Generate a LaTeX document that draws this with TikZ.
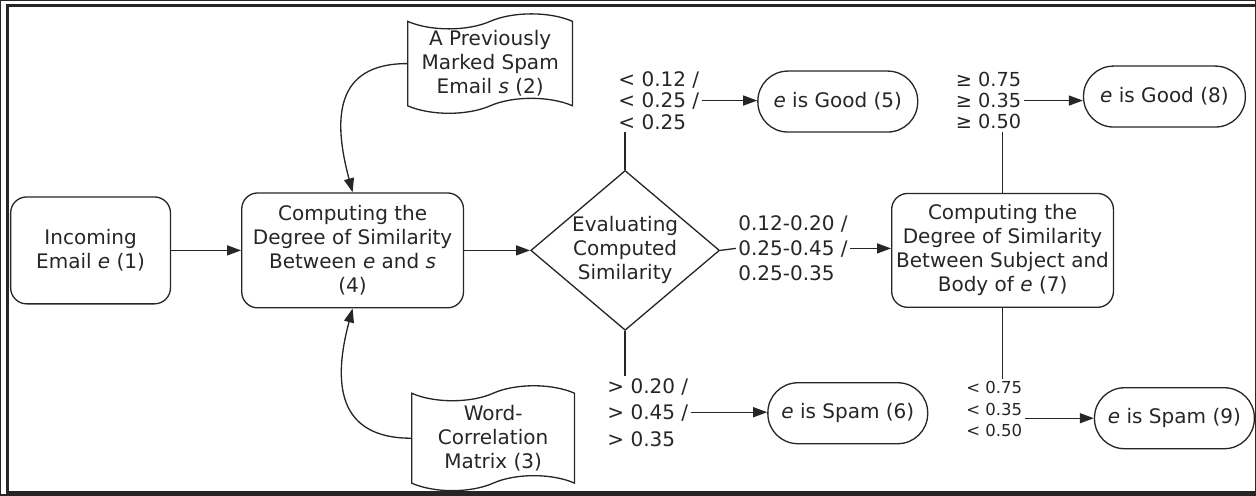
\documentclass[tikz,border=0pt]{standalone}
\usepackage{fontspec}
\setmainfont{DejaVu Sans}
\usetikzlibrary{positioning, shapes.geometric, shapes.symbols, arrows.meta}
\colorlet{ink}{black!85}
\tikzset{
  every node/.style={text=ink, font=\fontsize{11.4}{13.7}\selectfont, align=center},
  every path/.style={draw=ink, line width=0.75pt},
  proc/.style={draw, rounded corners=0.32cm, minimum width=4.44cm, minimum height=2.3cm, inner sep=2pt},
  term/.style={draw, rounded corners=0.6cm, minimum width=3.2cm, minimum height=1.22cm},
  docbox/.style={draw, tape, tape bend height=0.3cm, minimum width=3.3cm, minimum height=2cm, inner sep=1pt},
  decision/.style={draw, diamond, aspect=1.18, minimum width=3.78cm, minimum height=3.2cm, inner sep=0pt},
  cond/.style={draw=none, inner sep=1pt},
  flow/.style={-{Triangle[length=0.28cm, width=0.2cm]}}
}

\begin{document}
\begin{tikzpicture}
  \useasboundingbox (0,0) rectangle (25.12,9.9);
  \draw[line width=1.4pt] (25.12,9.8) -- (0.14,9.8) -- (0.14,0.05) -- (25.12,0.05);

  % Nodes
  \node (email) [proc, minimum width=3.2cm, minimum height=2.14cm] at (1.8,4.9) {Incoming\\ Email \emph{e} (1)};
  \node (simes) [proc, right=1.4cm of email] {Computing the\\ Degree of Similarity\\ Between \emph{e} and \emph{s}\\ (4)};
  \node (spamdoc) [docbox, minimum height=1.94cm] at (9.8,8.64) {A Previously\\ Marked Spam\\ Email \emph{s} (2)};
  \node (matrix) [docbox, minimum width=3.26cm, minimum height=2.1cm] at (9.86,1.14) {Word-\\ Correlation\\ Matrix (3)};
  \node (eval) [decision, right=1.32cm of simes] {Evaluating\\ Computed\\ Similarity};
  \node (simsb) [proc, minimum height=2.28cm, right=3.42cm of eval] {Computing the\\ Degree of Similarity\\ Between Subject and\\ Body of \emph{e} (7)};

  \node (good1) [term] at (16.76,7.88) {\emph{e} is Good (5)};
  \node (spam1) [term] at (16.96,1.64) {\emph{e} is Spam (6)};
  \node (good2) [term, minimum width=3.24cm] at (23.3,7.98) {\emph{e} is Good (8)};
  \node (spam2) [term] at (23.5,1.54) {\emph{e} is Spam (9)};

  % Thresholds
  \node (lowcond) [cond, anchor=west, align=left, font=\fontsize{11.4}{12.2}\selectfont] at (12.32,7.9) {< 0.12 /\\ < 0.25 /\\ < 0.25};
  \node (highcond) [cond, anchor=west, align=left, font=\fontsize{11.4}{15.1}\selectfont] at (12.1,1.66) {> 0.20 /\\ > 0.45 /\\ > 0.35};
  \node (midcond) [cond, anchor=west, align=left, font=\fontsize{11.4}{14.2}\selectfont] at (14.72,4.94) {0.12-0.20 /\\ 0.25-0.45 /\\ 0.25-0.35};
  \node (geqcond) [cond, anchor=east, align=left, font=\fontsize{11}{12.2}\selectfont] at (20.48,7.9) {≥ 0.75\\ ≥ 0.35\\ ≥ 0.50};
  \node (lesscond) [cond, anchor=east, align=left, font=\fontsize{9.4}{12.2}\selectfont] at (20.5,1.72) {< 0.75\\ < 0.35\\ < 0.50};

  % Connectors
  \draw[flow] (email) -- (simes);
  \draw[flow] (spamdoc.west) to[out=180, in=105, looseness=1.35] (simes.north);
  \draw[flow] (matrix.west) to[out=180, in=-105, looseness=1.35] (simes.south);
  \draw[flow] (simes) -- (eval);

  \draw (eval.north) -- (eval.north |- lowcond.south);
  \draw[flow] (lowcond.east) -- (good1.west |- lowcond.east);
  \draw (eval.south) -- (eval.south |- highcond.north);
  \draw[flow] (highcond.east) -- (spam1.west |- highcond.east);
  \draw (eval.east) -- (midcond.west);
  \draw[flow] (midcond.east) -- (simsb.west |- midcond.east);

  \draw (simsb.north) -- (simsb.north |- geqcond.south);
  \draw[flow] (geqcond.east) -- (good2.west |- geqcond.east);
  \draw (simsb.south) -- (simsb.south |- lesscond.north);
  \draw[flow] (lesscond.east |- spam2.west) -- (spam2.west);
\end{tikzpicture}
\end{document}
